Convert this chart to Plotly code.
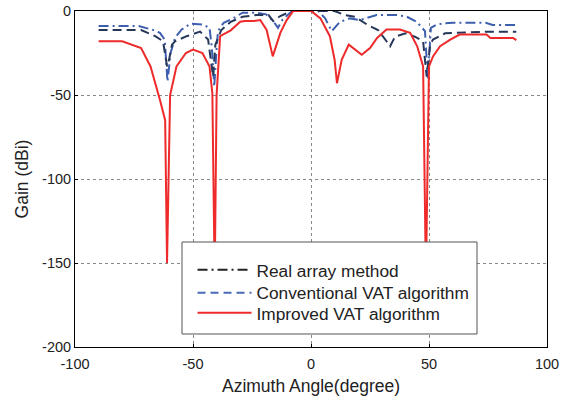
import plotly.graph_objects as go

# Real array method (dash-dot line)
real_x = [-90, -73, -67.5, -64, -62, -60.8, -59.5, -57.6, -54.8, -51, -46, -43, -42, -41, -40,
          -39.4, -37, -33, -29, -23, -19, -16, -14, -12, -8, 0, 3, 6, 8.8, 12.3, 16.5, 20.7,
          27.8, 36.3, 40.6, 44.8, 48.3, 49.5, 50.8, 53, 56, 60, 74, 77, 88]
real_y = [-9, -9, -11, -13, -17, -42, -25, -16, -11, -7.5, -8, -10, -22, -45, -22,
          -12, -7, -4.4, -1, -1, -2, -6, -10, -5, 0, 0, 0, -4.4, -12, -6.4, -4.4, -5.4,
          -2.4, -2.4, -3.4, -6.4, -12, -41, -10, -8.3, -7.3, -7, -7, -8.3, -8.3]

# Conventional VAT algorithm (dashed line)
conv_x = [-90, -72, -66, -62.7, -61, -60, -58.9, -57.6, -52.7, -47, -43.6, -41.5, -40.5, -38,
          -34, -29, -23, -18, -16, -13, -8, 0, 4, 10, 14.4, 18.6, 24, 28.4, 32, 33.5, 35.6,
          40, 44, 47.5, 49, 50.5, 51.7, 56.8, 74, 87]
conv_y = [-11.3, -11.3, -15, -18, -33, -28, -20, -18, -15, -12.3, -17, -39, -20, -11.3,
          -6.4, -3.4, -2.4, -2.4, -6, -3, 0, 0, 0, 0, -2.4, -3.4, -8.3, -11.3, -18, -21, -15.3,
          -13.3, -15.3, -18, -39, -20, -17, -13.3, -12.3, -12.3]

# Improved VAT algorithm (solid line)
imp_x = [-90, -80, -72, -68, -64, -61.8, -61, -59.7, -57, -53, -50, -46, -43, -41.8, -40.8,
         -40, -38.5, -34, -30, -28, -24.5, -21.5, -18.8, -16.2, -13, -10.3, -7.5, -3, 0, 4,
         8, 10, 11, 13, 16, 21.5, 25, 28, 32, 37.7, 42, 45, 47.5, 48.7, 50, 51.7, 54.7, 59,
         63, 74.4, 76, 85.6, 87]
imp_y = [-18, -18, -22, -33, -53, -65, -150, -50, -33, -25, -23, -25, -33, -49, -160,
         -50, -15, -11.5, -6.4, -6, -6, -5.4, -11.3, -27, -13, -5.4, 0, 0, 0, -4.4,
         -15, -29, -43, -29, -20, -26, -22, -16, -11, -11, -13, -21, -33, -160, -33, -27,
         -21, -17, -14, -14, -16, -16, -17.3]

series_names = ["Real array method", "Conventional VAT algorithm", "Improved VAT algorithm"]
x_ticks = [-100, -50, 0, 50, 100]
y_ticks = [-200, -150, -100, -50, 0]

fig = go.Figure()
fig.add_trace(go.Scatter(x=real_x, y=real_y, mode="lines", showlegend=False,
                         line=dict(color="#3d5fae", width=2, dash="10px,4px,2px,4px")))
fig.add_trace(go.Scatter(x=conv_x, y=conv_y, mode="lines", showlegend=False,
                         line=dict(color="#27375a", width=2, dash="9px,5px")))
fig.add_trace(go.Scatter(x=imp_x, y=imp_y, mode="lines", showlegend=False,
                         line=dict(color="#ee2a2a", width=2)))

# legend entries (one legend per entry for exact spacing)
fig.add_trace(go.Scatter(x=[None], y=[None], mode="lines", name=series_names[0], legend="legend",
                         line=dict(color="#222222", width=2, dash="10px,4px,2px,4px")))
fig.add_trace(go.Scatter(x=[None], y=[None], mode="lines", name=series_names[1], legend="legend2",
                         line=dict(color="#4a6bb8", width=2, dash="8px,5px")))
fig.add_trace(go.Scatter(x=[None], y=[None], mode="lines", name=series_names[2], legend="legend3",
                         line=dict(color="#ee2a2a", width=2)))

fig.add_shape(type="rect", xref="paper", yref="paper", x0=0.2267, x1=0.8517, y0=0.0387, y1=0.3125,
              line=dict(color="#555555", width=1), fillcolor="white", layer="above")

axis_common = dict(showline=True, linecolor="black", linewidth=1, mirror=True,
                   showgrid=True, gridcolor="#888888", griddash="dot", gridwidth=1,
                   zeroline=False, ticks="inside", ticklen=3, tickcolor="black",
                   automargin=False,
                   tickfont=dict(family="Liberation Sans, Arial", size=14.5, color="#222222"))

leg_common = dict(x=0.249, xanchor="left", yanchor="middle", bgcolor="rgba(0,0,0,0)",
                  borderwidth=0, font=dict(size=17.3, color="#222222"), itemwidth=54)

fig.update_layout(
    width=571, height=402,
    margin=dict(l=75, r=24, t=11, b=55),
    paper_bgcolor="white", plot_bgcolor="white",
    font=dict(family="Liberation Sans, Arial", color="#222222"),
    xaxis=dict(range=[-100, 100], tickvals=x_ticks, ticktext=[str(v) for v in x_ticks],
               ticklabelstandoff=4,
               title=dict(text="Azimuth Angle(degree)", font=dict(size=17.5), standoff=8),
               **axis_common),
    yaxis=dict(range=[-200, 0], tickvals=y_ticks, ticktext=[str(v) for v in y_ticks],
               title=dict(text="Gain (dBi)", font=dict(size=17.5), standoff=8),
               **axis_common),
    legend=dict(y=0.229, **leg_common),
    legend2=dict(y=0.161, **leg_common),
    legend3=dict(y=0.101, **leg_common),
)

fig.write_html("out.html")
